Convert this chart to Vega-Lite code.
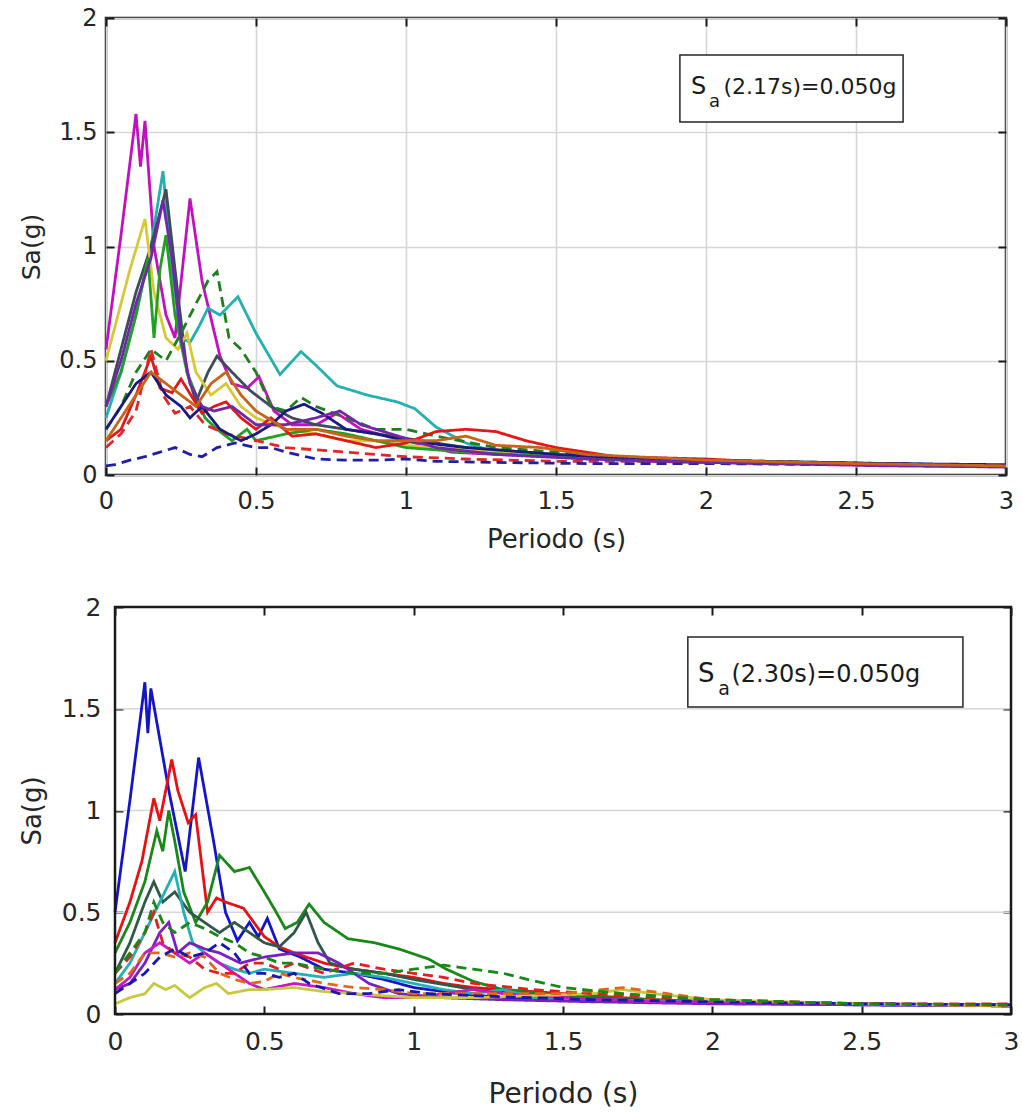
{
"$schema":"https://vega.github.io/schema/vega-lite/v6.json",
"padding":{"left":18,"top":4,"right":6,"bottom":4},
"spacing":41,
"config":{
 "view":{"stroke":"#1a1a1a","strokeWidth":2.5},
 "axis":{"labelFont":"DejaVu Sans","titleFont":"DejaVu Sans","labelColor":"#262626","titleColor":"#262626","titleFontWeight":"normal","gridColor":"#d6d6d6","gridWidth":1.6,"tickColor":"#1a1a1a","tickWidth":2,"tickSize":-8,"domain":false,"labelFlush":false,"labelOverlap":false,"labelBound":false}
},
"datasets":{
"top":[
{"s":"T1","T":0,"Sa":0.55},{"s":"T1","T":0.05,"Sa":1.05},{"s":"T1","T":0.1,"Sa":1.58},{"s":"T1","T":0.115,"Sa":1.35},{"s":"T1","T":0.13,"Sa":1.55},{"s":"T1","T":0.16,"Sa":1.0},{"s":"T1","T":0.2,"Sa":0.7},{"s":"T1","T":0.23,"Sa":0.6},{"s":"T1","T":0.28,"Sa":1.21},{"s":"T1","T":0.32,"Sa":0.85},{"s":"T1","T":0.38,"Sa":0.52},{"s":"T1","T":0.42,"Sa":0.4},{"s":"T1","T":0.47,"Sa":0.38},{"s":"T1","T":0.51,"Sa":0.43},{"s":"T1","T":0.56,"Sa":0.28},{"s":"T1","T":0.62,"Sa":0.22},{"s":"T1","T":0.7,"Sa":0.22},{"s":"T1","T":0.77,"Sa":0.27},{"s":"T1","T":0.85,"Sa":0.2},{"s":"T1","T":1.0,"Sa":0.15},{"s":"T1","T":1.15,"Sa":0.1},{"s":"T1","T":1.3,"Sa":0.09},{"s":"T1","T":1.5,"Sa":0.08},{"s":"T1","T":1.8,"Sa":0.06},{"s":"T1","T":2.2,"Sa":0.05},{"s":"T1","T":2.6,"Sa":0.04},{"s":"T1","T":3.0,"Sa":0.035},
{"s":"T2","T":0,"Sa":0.25},{"s":"T2","T":0.05,"Sa":0.45},{"s":"T2","T":0.1,"Sa":0.7},{"s":"T2","T":0.15,"Sa":1.0},{"s":"T2","T":0.19,"Sa":1.33},{"s":"T2","T":0.22,"Sa":0.9},{"s":"T2","T":0.25,"Sa":0.6},{"s":"T2","T":0.28,"Sa":0.58},{"s":"T2","T":0.31,"Sa":0.65},{"s":"T2","T":0.34,"Sa":0.73},{"s":"T2","T":0.38,"Sa":0.7},{"s":"T2","T":0.44,"Sa":0.78},{"s":"T2","T":0.5,"Sa":0.62},{"s":"T2","T":0.58,"Sa":0.44},{"s":"T2","T":0.65,"Sa":0.54},{"s":"T2","T":0.7,"Sa":0.48},{"s":"T2","T":0.77,"Sa":0.39},{"s":"T2","T":0.87,"Sa":0.35},{"s":"T2","T":0.97,"Sa":0.32},{"s":"T2","T":1.03,"Sa":0.29},{"s":"T2","T":1.1,"Sa":0.21},{"s":"T2","T":1.2,"Sa":0.14},{"s":"T2","T":1.3,"Sa":0.1},{"s":"T2","T":1.5,"Sa":0.08},{"s":"T2","T":1.8,"Sa":0.065},{"s":"T2","T":2.2,"Sa":0.055},{"s":"T2","T":2.6,"Sa":0.05},{"s":"T2","T":3.0,"Sa":0.04},
{"s":"T3","T":0,"Sa":0.3},{"s":"T3","T":0.05,"Sa":0.55},{"s":"T3","T":0.1,"Sa":0.8},{"s":"T3","T":0.15,"Sa":1.0},{"s":"T3","T":0.2,"Sa":1.25},{"s":"T3","T":0.23,"Sa":0.9},{"s":"T3","T":0.27,"Sa":0.45},{"s":"T3","T":0.3,"Sa":0.32},{"s":"T3","T":0.34,"Sa":0.45},{"s":"T3","T":0.37,"Sa":0.52},{"s":"T3","T":0.42,"Sa":0.45},{"s":"T3","T":0.48,"Sa":0.37},{"s":"T3","T":0.55,"Sa":0.3},{"s":"T3","T":0.62,"Sa":0.25},{"s":"T3","T":0.7,"Sa":0.22},{"s":"T3","T":0.8,"Sa":0.2},{"s":"T3","T":0.9,"Sa":0.18},{"s":"T3","T":1.0,"Sa":0.16},{"s":"T3","T":1.2,"Sa":0.12},{"s":"T3","T":1.4,"Sa":0.1},{"s":"T3","T":1.7,"Sa":0.07},{"s":"T3","T":2.0,"Sa":0.06},{"s":"T3","T":2.5,"Sa":0.05},{"s":"T3","T":3.0,"Sa":0.04},
{"s":"T4","T":0,"Sa":0.5},{"s":"T4","T":0.04,"Sa":0.7},{"s":"T4","T":0.08,"Sa":0.9},{"s":"T4","T":0.13,"Sa":1.12},{"s":"T4","T":0.16,"Sa":0.8},{"s":"T4","T":0.2,"Sa":0.6},{"s":"T4","T":0.24,"Sa":0.55},{"s":"T4","T":0.27,"Sa":0.62},{"s":"T4","T":0.3,"Sa":0.45},{"s":"T4","T":0.35,"Sa":0.35},{"s":"T4","T":0.4,"Sa":0.4},{"s":"T4","T":0.45,"Sa":0.3},{"s":"T4","T":0.5,"Sa":0.25},{"s":"T4","T":0.6,"Sa":0.2},{"s":"T4","T":0.7,"Sa":0.18},{"s":"T4","T":0.8,"Sa":0.15},{"s":"T4","T":0.9,"Sa":0.15},{"s":"T4","T":1.0,"Sa":0.13},{"s":"T4","T":1.2,"Sa":0.11},{"s":"T4","T":1.5,"Sa":0.09},{"s":"T4","T":1.8,"Sa":0.07},{"s":"T4","T":2.0,"Sa":0.06},{"s":"T4","T":2.5,"Sa":0.05},{"s":"T4","T":3.0,"Sa":0.04},
{"s":"T5","T":0,"Sa":0.3},{"s":"T5","T":0.05,"Sa":0.45},{"s":"T5","T":0.1,"Sa":0.7},{"s":"T5","T":0.14,"Sa":0.95},{"s":"T5","T":0.16,"Sa":0.6},{"s":"T5","T":0.18,"Sa":0.9},{"s":"T5","T":0.2,"Sa":1.05},{"s":"T5","T":0.23,"Sa":0.7},{"s":"T5","T":0.27,"Sa":0.45},{"s":"T5","T":0.3,"Sa":0.35},{"s":"T5","T":0.33,"Sa":0.25},{"s":"T5","T":0.37,"Sa":0.2},{"s":"T5","T":0.42,"Sa":0.15},{"s":"T5","T":0.47,"Sa":0.2},{"s":"T5","T":0.5,"Sa":0.15},{"s":"T5","T":0.6,"Sa":0.18},{"s":"T5","T":0.7,"Sa":0.2},{"s":"T5","T":0.8,"Sa":0.18},{"s":"T5","T":0.9,"Sa":0.15},{"s":"T5","T":1.0,"Sa":0.12},{"s":"T5","T":1.2,"Sa":0.1},{"s":"T5","T":1.5,"Sa":0.08},{"s":"T5","T":2.0,"Sa":0.06},{"s":"T5","T":2.5,"Sa":0.05},{"s":"T5","T":3.0,"Sa":0.04},
{"s":"T6","T":0,"Sa":0.2},{"s":"T6","T":0.05,"Sa":0.3},{"s":"T6","T":0.1,"Sa":0.45},{"s":"T6","T":0.15,"Sa":0.55},{"s":"T6","T":0.2,"Sa":0.5},{"s":"T6","T":0.25,"Sa":0.62},{"s":"T6","T":0.3,"Sa":0.75},{"s":"T6","T":0.34,"Sa":0.85},{"s":"T6","T":0.37,"Sa":0.89},{"s":"T6","T":0.41,"Sa":0.6},{"s":"T6","T":0.45,"Sa":0.55},{"s":"T6","T":0.5,"Sa":0.45},{"s":"T6","T":0.55,"Sa":0.3},{"s":"T6","T":0.6,"Sa":0.28},{"s":"T6","T":0.65,"Sa":0.34},{"s":"T6","T":0.7,"Sa":0.3},{"s":"T6","T":0.8,"Sa":0.25},{"s":"T6","T":0.9,"Sa":0.2},{"s":"T6","T":1.0,"Sa":0.2},{"s":"T6","T":1.1,"Sa":0.17},{"s":"T6","T":1.3,"Sa":0.12},{"s":"T6","T":1.5,"Sa":0.1},{"s":"T6","T":1.8,"Sa":0.07},{"s":"T6","T":2.2,"Sa":0.06},{"s":"T6","T":2.6,"Sa":0.05},{"s":"T6","T":3.0,"Sa":0.04},
{"s":"T7","T":0,"Sa":0.15},{"s":"T7","T":0.05,"Sa":0.2},{"s":"T7","T":0.1,"Sa":0.35},{"s":"T7","T":0.15,"Sa":0.52},{"s":"T7","T":0.18,"Sa":0.38},{"s":"T7","T":0.22,"Sa":0.36},{"s":"T7","T":0.25,"Sa":0.42},{"s":"T7","T":0.32,"Sa":0.27},{"s":"T7","T":0.36,"Sa":0.3},{"s":"T7","T":0.4,"Sa":0.32},{"s":"T7","T":0.45,"Sa":0.25},{"s":"T7","T":0.5,"Sa":0.2},{"s":"T7","T":0.55,"Sa":0.25},{"s":"T7","T":0.62,"Sa":0.17},{"s":"T7","T":0.7,"Sa":0.18},{"s":"T7","T":0.8,"Sa":0.15},{"s":"T7","T":0.9,"Sa":0.12},{"s":"T7","T":1.0,"Sa":0.14},{"s":"T7","T":1.1,"Sa":0.19},{"s":"T7","T":1.2,"Sa":0.2},{"s":"T7","T":1.3,"Sa":0.19},{"s":"T7","T":1.4,"Sa":0.15},{"s":"T7","T":1.5,"Sa":0.12},{"s":"T7","T":1.7,"Sa":0.08},{"s":"T7","T":2.0,"Sa":0.07},{"s":"T7","T":2.3,"Sa":0.05},{"s":"T7","T":2.6,"Sa":0.05},{"s":"T7","T":3.0,"Sa":0.04},
{"s":"T8","T":0,"Sa":0.12},{"s":"T8","T":0.05,"Sa":0.18},{"s":"T8","T":0.1,"Sa":0.28},{"s":"T8","T":0.15,"Sa":0.55},{"s":"T8","T":0.19,"Sa":0.35},{"s":"T8","T":0.23,"Sa":0.27},{"s":"T8","T":0.28,"Sa":0.3},{"s":"T8","T":0.33,"Sa":0.22},{"s":"T8","T":0.4,"Sa":0.18},{"s":"T8","T":0.5,"Sa":0.15},{"s":"T8","T":0.6,"Sa":0.12},{"s":"T8","T":0.8,"Sa":0.1},{"s":"T8","T":1.0,"Sa":0.08},{"s":"T8","T":1.2,"Sa":0.07},{"s":"T8","T":1.5,"Sa":0.06},{"s":"T8","T":1.8,"Sa":0.06},{"s":"T8","T":2.0,"Sa":0.06},{"s":"T8","T":2.5,"Sa":0.05},{"s":"T8","T":3.0,"Sa":0.04},
{"s":"T9","T":0,"Sa":0.04},{"s":"T9","T":0.03,"Sa":0.045},{"s":"T9","T":0.08,"Sa":0.065},{"s":"T9","T":0.13,"Sa":0.08},{"s":"T9","T":0.18,"Sa":0.1},{"s":"T9","T":0.23,"Sa":0.12},{"s":"T9","T":0.28,"Sa":0.09},{"s":"T9","T":0.32,"Sa":0.08},{"s":"T9","T":0.37,"Sa":0.12},{"s":"T9","T":0.43,"Sa":0.14},{"s":"T9","T":0.5,"Sa":0.12},{"s":"T9","T":0.55,"Sa":0.12},{"s":"T9","T":0.6,"Sa":0.1},{"s":"T9","T":0.7,"Sa":0.07},{"s":"T9","T":0.8,"Sa":0.065},{"s":"T9","T":0.9,"Sa":0.065},{"s":"T9","T":1.0,"Sa":0.07},{"s":"T9","T":1.1,"Sa":0.06},{"s":"T9","T":1.3,"Sa":0.055},{"s":"T9","T":1.6,"Sa":0.05},{"s":"T9","T":2.0,"Sa":0.05},{"s":"T9","T":2.5,"Sa":0.045},{"s":"T9","T":3.0,"Sa":0.04},
{"s":"T10","T":0,"Sa":0.2},{"s":"T10","T":0.05,"Sa":0.3},{"s":"T10","T":0.1,"Sa":0.4},{"s":"T10","T":0.15,"Sa":0.45},{"s":"T10","T":0.2,"Sa":0.35},{"s":"T10","T":0.25,"Sa":0.3},{"s":"T10","T":0.28,"Sa":0.25},{"s":"T10","T":0.32,"Sa":0.3},{"s":"T10","T":0.38,"Sa":0.2},{"s":"T10","T":0.45,"Sa":0.15},{"s":"T10","T":0.5,"Sa":0.18},{"s":"T10","T":0.55,"Sa":0.22},{"s":"T10","T":0.6,"Sa":0.28},{"s":"T10","T":0.66,"Sa":0.31},{"s":"T10","T":0.72,"Sa":0.27},{"s":"T10","T":0.8,"Sa":0.2},{"s":"T10","T":0.9,"Sa":0.18},{"s":"T10","T":1.0,"Sa":0.15},{"s":"T10","T":1.2,"Sa":0.12},{"s":"T10","T":1.5,"Sa":0.09},{"s":"T10","T":1.8,"Sa":0.07},{"s":"T10","T":2.2,"Sa":0.06},{"s":"T10","T":2.6,"Sa":0.05},{"s":"T10","T":3.0,"Sa":0.045},
{"s":"T11","T":0,"Sa":0.3},{"s":"T11","T":0.05,"Sa":0.5},{"s":"T11","T":0.1,"Sa":0.75},{"s":"T11","T":0.15,"Sa":0.95},{"s":"T11","T":0.19,"Sa":1.2},{"s":"T11","T":0.22,"Sa":0.95},{"s":"T11","T":0.25,"Sa":0.6},{"s":"T11","T":0.28,"Sa":0.4},{"s":"T11","T":0.32,"Sa":0.3},{"s":"T11","T":0.36,"Sa":0.28},{"s":"T11","T":0.42,"Sa":0.3},{"s":"T11","T":0.5,"Sa":0.22},{"s":"T11","T":0.6,"Sa":0.22},{"s":"T11","T":0.7,"Sa":0.25},{"s":"T11","T":0.78,"Sa":0.28},{"s":"T11","T":0.85,"Sa":0.22},{"s":"T11","T":0.95,"Sa":0.18},{"s":"T11","T":1.1,"Sa":0.12},{"s":"T11","T":1.3,"Sa":0.09},{"s":"T11","T":1.6,"Sa":0.07},{"s":"T11","T":2.0,"Sa":0.055},{"s":"T11","T":2.5,"Sa":0.045},{"s":"T11","T":3.0,"Sa":0.035},
{"s":"T12","T":0,"Sa":0.15},{"s":"T12","T":0.05,"Sa":0.25},{"s":"T12","T":0.1,"Sa":0.35},{"s":"T12","T":0.15,"Sa":0.45},{"s":"T12","T":0.2,"Sa":0.4},{"s":"T12","T":0.25,"Sa":0.35},{"s":"T12","T":0.3,"Sa":0.3},{"s":"T12","T":0.35,"Sa":0.4},{"s":"T12","T":0.4,"Sa":0.45},{"s":"T12","T":0.45,"Sa":0.35},{"s":"T12","T":0.5,"Sa":0.28},{"s":"T12","T":0.6,"Sa":0.2},{"s":"T12","T":0.7,"Sa":0.2},{"s":"T12","T":0.8,"Sa":0.17},{"s":"T12","T":0.9,"Sa":0.15},{"s":"T12","T":1.0,"Sa":0.15},{"s":"T12","T":1.1,"Sa":0.15},{"s":"T12","T":1.2,"Sa":0.17},{"s":"T12","T":1.3,"Sa":0.13},{"s":"T12","T":1.45,"Sa":0.12},{"s":"T12","T":1.6,"Sa":0.09},{"s":"T12","T":2.0,"Sa":0.065},{"s":"T12","T":2.5,"Sa":0.05},{"s":"T12","T":3.0,"Sa":0.04}
],
"bot":[
{"s":"B1","T":0,"Sa":0.5},{"s":"B1","T":0.05,"Sa":1.05},{"s":"B1","T":0.1,"Sa":1.63},{"s":"B1","T":0.11,"Sa":1.38},{"s":"B1","T":0.12,"Sa":1.6},{"s":"B1","T":0.18,"Sa":1.1},{"s":"B1","T":0.235,"Sa":0.7},{"s":"B1","T":0.28,"Sa":1.26},{"s":"B1","T":0.33,"Sa":0.85},{"s":"B1","T":0.37,"Sa":0.5},{"s":"B1","T":0.41,"Sa":0.36},{"s":"B1","T":0.45,"Sa":0.45},{"s":"B1","T":0.48,"Sa":0.38},{"s":"B1","T":0.51,"Sa":0.47},{"s":"B1","T":0.55,"Sa":0.32},{"s":"B1","T":0.62,"Sa":0.28},{"s":"B1","T":0.7,"Sa":0.22},{"s":"B1","T":0.8,"Sa":0.2},{"s":"B1","T":0.9,"Sa":0.17},{"s":"B1","T":1.0,"Sa":0.13},{"s":"B1","T":1.15,"Sa":0.1},{"s":"B1","T":1.3,"Sa":0.08},{"s":"B1","T":1.6,"Sa":0.07},{"s":"B1","T":2.0,"Sa":0.055},{"s":"B1","T":2.5,"Sa":0.045},{"s":"B1","T":3.0,"Sa":0.04},
{"s":"B2","T":0,"Sa":0.35},{"s":"B2","T":0.05,"Sa":0.55},{"s":"B2","T":0.09,"Sa":0.75},{"s":"B2","T":0.13,"Sa":1.06},{"s":"B2","T":0.15,"Sa":0.95},{"s":"B2","T":0.19,"Sa":1.25},{"s":"B2","T":0.21,"Sa":1.1},{"s":"B2","T":0.245,"Sa":0.94},{"s":"B2","T":0.27,"Sa":0.98},{"s":"B2","T":0.31,"Sa":0.5},{"s":"B2","T":0.34,"Sa":0.57},{"s":"B2","T":0.37,"Sa":0.55},{"s":"B2","T":0.43,"Sa":0.52},{"s":"B2","T":0.5,"Sa":0.38},{"s":"B2","T":0.55,"Sa":0.33},{"s":"B2","T":0.6,"Sa":0.3},{"s":"B2","T":0.7,"Sa":0.25},{"s":"B2","T":0.8,"Sa":0.22},{"s":"B2","T":0.9,"Sa":0.2},{"s":"B2","T":1.0,"Sa":0.18},{"s":"B2","T":1.1,"Sa":0.15},{"s":"B2","T":1.2,"Sa":0.13},{"s":"B2","T":1.3,"Sa":0.12},{"s":"B2","T":1.5,"Sa":0.1},{"s":"B2","T":1.8,"Sa":0.07},{"s":"B2","T":2.0,"Sa":0.06},{"s":"B2","T":2.5,"Sa":0.05},{"s":"B2","T":3.0,"Sa":0.04},
{"s":"B3","T":0,"Sa":0.3},{"s":"B3","T":0.05,"Sa":0.45},{"s":"B3","T":0.1,"Sa":0.65},{"s":"B3","T":0.14,"Sa":0.9},{"s":"B3","T":0.16,"Sa":0.8},{"s":"B3","T":0.18,"Sa":1.0},{"s":"B3","T":0.2,"Sa":0.85},{"s":"B3","T":0.23,"Sa":0.6},{"s":"B3","T":0.27,"Sa":0.45},{"s":"B3","T":0.31,"Sa":0.55},{"s":"B3","T":0.35,"Sa":0.78},{"s":"B3","T":0.4,"Sa":0.7},{"s":"B3","T":0.45,"Sa":0.72},{"s":"B3","T":0.5,"Sa":0.6},{"s":"B3","T":0.54,"Sa":0.5},{"s":"B3","T":0.57,"Sa":0.42},{"s":"B3","T":0.61,"Sa":0.45},{"s":"B3","T":0.65,"Sa":0.54},{"s":"B3","T":0.7,"Sa":0.45},{"s":"B3","T":0.78,"Sa":0.37},{"s":"B3","T":0.87,"Sa":0.35},{"s":"B3","T":0.95,"Sa":0.32},{"s":"B3","T":1.05,"Sa":0.27},{"s":"B3","T":1.11,"Sa":0.22},{"s":"B3","T":1.2,"Sa":0.16},{"s":"B3","T":1.3,"Sa":0.12},{"s":"B3","T":1.5,"Sa":0.09},{"s":"B3","T":1.8,"Sa":0.07},{"s":"B3","T":2.0,"Sa":0.06},{"s":"B3","T":2.5,"Sa":0.05},{"s":"B3","T":3.0,"Sa":0.04},
{"s":"B4","T":0,"Sa":0.2},{"s":"B4","T":0.05,"Sa":0.35},{"s":"B4","T":0.1,"Sa":0.55},{"s":"B4","T":0.13,"Sa":0.65},{"s":"B4","T":0.16,"Sa":0.55},{"s":"B4","T":0.2,"Sa":0.6},{"s":"B4","T":0.25,"Sa":0.5},{"s":"B4","T":0.3,"Sa":0.45},{"s":"B4","T":0.35,"Sa":0.4},{"s":"B4","T":0.4,"Sa":0.45},{"s":"B4","T":0.45,"Sa":0.4},{"s":"B4","T":0.5,"Sa":0.35},{"s":"B4","T":0.55,"Sa":0.33},{"s":"B4","T":0.6,"Sa":0.4},{"s":"B4","T":0.64,"Sa":0.5},{"s":"B4","T":0.68,"Sa":0.35},{"s":"B4","T":0.72,"Sa":0.25},{"s":"B4","T":0.8,"Sa":0.22},{"s":"B4","T":0.9,"Sa":0.2},{"s":"B4","T":1.0,"Sa":0.17},{"s":"B4","T":1.2,"Sa":0.12},{"s":"B4","T":1.5,"Sa":0.08},{"s":"B4","T":2.0,"Sa":0.06},{"s":"B4","T":2.5,"Sa":0.05},{"s":"B4","T":3.0,"Sa":0.04},
{"s":"B5","T":0,"Sa":0.15},{"s":"B5","T":0.05,"Sa":0.25},{"s":"B5","T":0.1,"Sa":0.4},{"s":"B5","T":0.15,"Sa":0.55},{"s":"B5","T":0.2,"Sa":0.7},{"s":"B5","T":0.23,"Sa":0.5},{"s":"B5","T":0.26,"Sa":0.35},{"s":"B5","T":0.3,"Sa":0.3},{"s":"B5","T":0.35,"Sa":0.25},{"s":"B5","T":0.4,"Sa":0.22},{"s":"B5","T":0.45,"Sa":0.2},{"s":"B5","T":0.5,"Sa":0.22},{"s":"B5","T":0.6,"Sa":0.2},{"s":"B5","T":0.7,"Sa":0.18},{"s":"B5","T":0.8,"Sa":0.2},{"s":"B5","T":0.9,"Sa":0.18},{"s":"B5","T":1.0,"Sa":0.15},{"s":"B5","T":1.1,"Sa":0.12},{"s":"B5","T":1.2,"Sa":0.1},{"s":"B5","T":1.3,"Sa":0.12},{"s":"B5","T":1.4,"Sa":0.08},{"s":"B5","T":1.6,"Sa":0.07},{"s":"B5","T":2.0,"Sa":0.06},{"s":"B5","T":2.5,"Sa":0.05},{"s":"B5","T":3.0,"Sa":0.04},
{"s":"B6","T":0,"Sa":0.12},{"s":"B6","T":0.05,"Sa":0.15},{"s":"B6","T":0.1,"Sa":0.25},{"s":"B6","T":0.15,"Sa":0.4},{"s":"B6","T":0.18,"Sa":0.45},{"s":"B6","T":0.21,"Sa":0.3},{"s":"B6","T":0.25,"Sa":0.35},{"s":"B6","T":0.3,"Sa":0.32},{"s":"B6","T":0.35,"Sa":0.3},{"s":"B6","T":0.42,"Sa":0.25},{"s":"B6","T":0.5,"Sa":0.28},{"s":"B6","T":0.6,"Sa":0.3},{"s":"B6","T":0.68,"Sa":0.3},{"s":"B6","T":0.75,"Sa":0.25},{"s":"B6","T":0.85,"Sa":0.15},{"s":"B6","T":0.95,"Sa":0.1},{"s":"B6","T":1.1,"Sa":0.08},{"s":"B6","T":1.3,"Sa":0.07},{"s":"B6","T":1.6,"Sa":0.06},{"s":"B6","T":2.0,"Sa":0.05},{"s":"B6","T":2.5,"Sa":0.045},{"s":"B6","T":3.0,"Sa":0.04},
{"s":"B7","T":0,"Sa":0.12},{"s":"B7","T":0.05,"Sa":0.18},{"s":"B7","T":0.1,"Sa":0.3},{"s":"B7","T":0.15,"Sa":0.35},{"s":"B7","T":0.2,"Sa":0.3},{"s":"B7","T":0.25,"Sa":0.25},{"s":"B7","T":0.3,"Sa":0.3},{"s":"B7","T":0.38,"Sa":0.22},{"s":"B7","T":0.45,"Sa":0.15},{"s":"B7","T":0.5,"Sa":0.12},{"s":"B7","T":0.6,"Sa":0.15},{"s":"B7","T":0.7,"Sa":0.13},{"s":"B7","T":0.8,"Sa":0.1},{"s":"B7","T":0.9,"Sa":0.08},{"s":"B7","T":1.0,"Sa":0.08},{"s":"B7","T":1.2,"Sa":0.12},{"s":"B7","T":1.3,"Sa":0.1},{"s":"B7","T":1.5,"Sa":0.08},{"s":"B7","T":1.8,"Sa":0.06},{"s":"B7","T":2.0,"Sa":0.06},{"s":"B7","T":2.5,"Sa":0.05},{"s":"B7","T":3.0,"Sa":0.045},
{"s":"B8","T":0,"Sa":0.05},{"s":"B8","T":0.05,"Sa":0.08},{"s":"B8","T":0.1,"Sa":0.1},{"s":"B8","T":0.13,"Sa":0.15},{"s":"B8","T":0.17,"Sa":0.12},{"s":"B8","T":0.2,"Sa":0.14},{"s":"B8","T":0.25,"Sa":0.08},{"s":"B8","T":0.3,"Sa":0.13},{"s":"B8","T":0.34,"Sa":0.15},{"s":"B8","T":0.38,"Sa":0.1},{"s":"B8","T":0.45,"Sa":0.12},{"s":"B8","T":0.5,"Sa":0.12},{"s":"B8","T":0.6,"Sa":0.13},{"s":"B8","T":0.7,"Sa":0.11},{"s":"B8","T":0.8,"Sa":0.1},{"s":"B8","T":0.9,"Sa":0.09},{"s":"B8","T":1.0,"Sa":0.08},{"s":"B8","T":1.2,"Sa":0.08},{"s":"B8","T":1.4,"Sa":0.09},{"s":"B8","T":1.6,"Sa":0.1},{"s":"B8","T":1.7,"Sa":0.12},{"s":"B8","T":1.8,"Sa":0.1},{"s":"B8","T":2.0,"Sa":0.07},{"s":"B8","T":2.5,"Sa":0.05},{"s":"B8","T":3.0,"Sa":0.04},
{"s":"B9","T":0,"Sa":0.2},{"s":"B9","T":0.05,"Sa":0.28},{"s":"B9","T":0.1,"Sa":0.4},{"s":"B9","T":0.13,"Sa":0.5},{"s":"B9","T":0.16,"Sa":0.35},{"s":"B9","T":0.2,"Sa":0.3},{"s":"B9","T":0.25,"Sa":0.28},{"s":"B9","T":0.3,"Sa":0.22},{"s":"B9","T":0.35,"Sa":0.2},{"s":"B9","T":0.4,"Sa":0.2},{"s":"B9","T":0.45,"Sa":0.25},{"s":"B9","T":0.5,"Sa":0.25},{"s":"B9","T":0.55,"Sa":0.22},{"s":"B9","T":0.6,"Sa":0.25},{"s":"B9","T":0.7,"Sa":0.2},{"s":"B9","T":0.8,"Sa":0.25},{"s":"B9","T":0.9,"Sa":0.22},{"s":"B9","T":1.0,"Sa":0.2},{"s":"B9","T":1.1,"Sa":0.18},{"s":"B9","T":1.2,"Sa":0.15},{"s":"B9","T":1.4,"Sa":0.12},{"s":"B9","T":1.6,"Sa":0.1},{"s":"B9","T":1.8,"Sa":0.08},{"s":"B9","T":2.0,"Sa":0.07},{"s":"B9","T":2.5,"Sa":0.05},{"s":"B9","T":3.0,"Sa":0.05},
{"s":"B10","T":0,"Sa":0.15},{"s":"B10","T":0.05,"Sa":0.2},{"s":"B10","T":0.1,"Sa":0.3},{"s":"B10","T":0.15,"Sa":0.3},{"s":"B10","T":0.2,"Sa":0.28},{"s":"B10","T":0.25,"Sa":0.3},{"s":"B10","T":0.3,"Sa":0.28},{"s":"B10","T":0.35,"Sa":0.2},{"s":"B10","T":0.4,"Sa":0.17},{"s":"B10","T":0.45,"Sa":0.15},{"s":"B10","T":0.5,"Sa":0.16},{"s":"B10","T":0.55,"Sa":0.2},{"s":"B10","T":0.6,"Sa":0.18},{"s":"B10","T":0.7,"Sa":0.15},{"s":"B10","T":0.8,"Sa":0.13},{"s":"B10","T":0.9,"Sa":0.12},{"s":"B10","T":1.0,"Sa":0.1},{"s":"B10","T":1.1,"Sa":0.1},{"s":"B10","T":1.3,"Sa":0.1},{"s":"B10","T":1.5,"Sa":0.1},{"s":"B10","T":1.7,"Sa":0.13},{"s":"B10","T":1.85,"Sa":0.1},{"s":"B10","T":2.0,"Sa":0.07},{"s":"B10","T":2.5,"Sa":0.05},{"s":"B10","T":3.0,"Sa":0.04},
{"s":"B11","T":0,"Sa":0.1},{"s":"B11","T":0.05,"Sa":0.15},{"s":"B11","T":0.1,"Sa":0.2},{"s":"B11","T":0.15,"Sa":0.28},{"s":"B11","T":0.2,"Sa":0.32},{"s":"B11","T":0.25,"Sa":0.28},{"s":"B11","T":0.3,"Sa":0.3},{"s":"B11","T":0.35,"Sa":0.35},{"s":"B11","T":0.4,"Sa":0.3},{"s":"B11","T":0.45,"Sa":0.2},{"s":"B11","T":0.5,"Sa":0.2},{"s":"B11","T":0.55,"Sa":0.18},{"s":"B11","T":0.6,"Sa":0.2},{"s":"B11","T":0.65,"Sa":0.15},{"s":"B11","T":0.75,"Sa":0.1},{"s":"B11","T":0.85,"Sa":0.1},{"s":"B11","T":0.95,"Sa":0.12},{"s":"B11","T":1.05,"Sa":0.1},{"s":"B11","T":1.2,"Sa":0.09},{"s":"B11","T":1.4,"Sa":0.08},{"s":"B11","T":1.6,"Sa":0.07},{"s":"B11","T":2.0,"Sa":0.06},{"s":"B11","T":2.5,"Sa":0.05},{"s":"B11","T":3.0,"Sa":0.045},
{"s":"B12","T":0,"Sa":0.2},{"s":"B12","T":0.05,"Sa":0.3},{"s":"B12","T":0.1,"Sa":0.4},{"s":"B12","T":0.13,"Sa":0.55},{"s":"B12","T":0.16,"Sa":0.45},{"s":"B12","T":0.2,"Sa":0.4},{"s":"B12","T":0.25,"Sa":0.45},{"s":"B12","T":0.3,"Sa":0.42},{"s":"B12","T":0.35,"Sa":0.38},{"s":"B12","T":0.4,"Sa":0.35},{"s":"B12","T":0.45,"Sa":0.3},{"s":"B12","T":0.5,"Sa":0.28},{"s":"B12","T":0.55,"Sa":0.25},{"s":"B12","T":0.6,"Sa":0.25},{"s":"B12","T":0.7,"Sa":0.22},{"s":"B12","T":0.8,"Sa":0.2},{"s":"B12","T":0.9,"Sa":0.2},{"s":"B12","T":1.0,"Sa":0.22},{"s":"B12","T":1.1,"Sa":0.24},{"s":"B12","T":1.2,"Sa":0.22},{"s":"B12","T":1.3,"Sa":0.2},{"s":"B12","T":1.38,"Sa":0.17},{"s":"B12","T":1.5,"Sa":0.13},{"s":"B12","T":1.7,"Sa":0.1},{"s":"B12","T":2.0,"Sa":0.07},{"s":"B12","T":2.5,"Sa":0.05},{"s":"B12","T":3.0,"Sa":0.045}
],
"ygrid":[{"g":0.5},{"g":1},{"g":1.5}]
},
"vconcat":[
{
 "width":900,"height":457,
 "resolve":{"axis":{"x":"independent","y":"independent"}},
 "layer":[
  {"data":{"name":"top"},
   "mark":{"type":"line","strokeWidth":2.8},
   "encoding":{
    "x":{"field":"T","type":"quantitative","scale":{"domain":[0,3],"nice":false},"axis":{"orient":"bottom","title":"Periodo (s)","values":[0,0.5,1,1.5,2,2.5,3],"format":"~g","labelFontSize":24,"titleFontSize":26,"labelPadding":22,"titlePadding":13}},
    "y":{"field":"Sa","type":"quantitative","scale":{"domain":[0,2],"nice":false},"axis":{"orient":"left","title":"Sa(g)","values":[0,0.5,1,1.5,2],"format":"~g","labelFontSize":24,"titleFontSize":25,"labelPadding":17,"titlePadding":14}},
    "color":{"field":"s","type":"nominal","legend":null,"scale":{"domain":["T1","T2","T3","T4","T5","T6","T7","T8","T9","T10","T11","T12","B1","B2","B3","B4","B5","B6","B7","B8","B9","B10","B11","B12"],"range":["#c010c0","#22b0b0","#3c4c58","#d8c838","#20a020","#1f7f1f","#e01818","#e02828","#2020a0","#1a1a80","#7028a8","#c86418","#1414c8","#e81010","#188818","#305848","#20b0b8","#7a20c0","#c818c8","#c8c840","#e02020","#e06818","#1818b0","#188818"]}},
    "strokeDash":{"field":"s","type":"nominal","legend":null,"scale":{"domain":["T1","T2","T3","T4","T5","T6","T7","T8","T9","T10","T11","T12","B1","B2","B3","B4","B5","B6","B7","B8","B9","B10","B11","B12"],"range":[[1,0],[1,0],[1,0],[1,0],[1,0],[10,6],[1,0],[10,6],[10,6],[1,0],[1,0],[1,0],[1,0],[1,0],[1,0],[1,0],[1,0],[1,0],[1,0],[1,0],[10,6],[10,6],[10,6],[10,6]]}}
   }},
  {"data":{"values":[{}]},
   "mark":{"type":"rect","fill":"white","stroke":"#262626","strokeWidth":1.5},
   "encoding":{
    "x":{"datum":1.913,"axis":{"orient":"top","labels":false,"grid":false,"title":null,"values":[0,0.5,1,1.5,2,2.5,3]}},
    "x2":{"datum":2.657},
    "y":{"datum":1.838,"axis":{"orient":"right","labels":false,"grid":false,"title":null,"values":[0,0.5,1,1.5,2]}},
    "y2":{"datum":1.545}}},
  {"data":{"values":[{}]},
   "mark":{"type":"text","text":"S","align":"left","baseline":"alphabetic","fontSize":24,"font":"DejaVu Sans","color":"#1a1a1a"},
   "encoding":{"x":{"datum":1.95,"axis":null},"y":{"datum":1.667,"axis":null}}},
  {"data":{"values":[{}]},
   "mark":{"type":"text","text":"a","align":"left","baseline":"alphabetic","fontSize":18,"font":"DejaVu Sans","color":"#1a1a1a"},
   "encoding":{"x":{"datum":2.01,"axis":null},"y":{"datum":1.61,"axis":null}}},
  {"data":{"values":[{}]},
   "mark":{"type":"text","text":"(2.17s)=0.050g","align":"left","baseline":"alphabetic","fontSize":22,"font":"DejaVu Sans","color":"#1a1a1a"},
   "encoding":{"x":{"datum":2.058,"axis":null},"y":{"datum":1.667,"axis":null}}}
 ]
},
{
 "width":905,"height":407,
 "view":{"stroke":null},
 "resolve":{"axis":{"x":"independent","y":"independent"}},
 "layer":[
  {"data":{"name":"ygrid"},
   "mark":{"type":"rule","color":"#d6d6d6","strokeWidth":1.6},
   "encoding":{"y":{"field":"g","type":"quantitative","axis":null},"x":{"datum":0,"axis":null},"x2":{"datum":3}}},
  {"data":{"name":"bot"},
   "mark":{"type":"line","strokeWidth":2.8},
   "encoding":{
    "x":{"field":"T","type":"quantitative","scale":{"domain":[0,3],"nice":false,"range":[9,905]},"axis":{"orient":"bottom","title":"Periodo (s)","values":[0,0.5,1,1.5,2,2.5,3],"format":"~g","labelFontSize":25,"titleFontSize":28,"labelPadding":23,"titlePadding":26}},
    "y":{"field":"Sa","type":"quantitative","scale":{"domain":[0,2],"nice":false},"axis":{"orient":"left","offset":-9,"grid":false,"title":"Sa(g)","values":[0,0.5,1,1.5,2],"format":"~g","labelFontSize":25,"titleFontSize":26,"labelPadding":22,"titlePadding":16}},
    "color":{"field":"s","type":"nominal","legend":null,"scale":{"domain":["T1","T2","T3","T4","T5","T6","T7","T8","T9","T10","T11","T12","B1","B2","B3","B4","B5","B6","B7","B8","B9","B10","B11","B12"],"range":["#c010c0","#22b0b0","#3c4c58","#d8c838","#20a020","#1f7f1f","#e01818","#e02828","#2020a0","#1a1a80","#7028a8","#c86418","#1414c8","#e81010","#188818","#305848","#20b0b8","#7a20c0","#c818c8","#c8c840","#e02020","#e06818","#1818b0","#188818"]}},
    "strokeDash":{"field":"s","type":"nominal","legend":null,"scale":{"domain":["T1","T2","T3","T4","T5","T6","T7","T8","T9","T10","T11","T12","B1","B2","B3","B4","B5","B6","B7","B8","B9","B10","B11","B12"],"range":[[1,0],[1,0],[1,0],[1,0],[1,0],[10,6],[1,0],[10,6],[10,6],[1,0],[1,0],[1,0],[1,0],[1,0],[1,0],[1,0],[1,0],[1,0],[1,0],[1,0],[10,6],[10,6],[10,6],[10,6]]}}
   }},
  {"data":{"values":[{}]},
   "mark":{"type":"rect","fillOpacity":0,"stroke":"#1a1a1a","strokeWidth":2.5},
   "encoding":{"x":{"datum":0,"axis":null},"x2":{"datum":3},"y":{"datum":0,"axis":null},"y2":{"datum":2}}},
  {"data":{"values":[{}]},
   "mark":{"type":"rect","fill":"white","stroke":"#262626","strokeWidth":1.5},
   "encoding":{
    "x":{"datum":1.918,"axis":{"orient":"top","labels":false,"grid":false,"title":null,"values":[0,0.5,1,1.5,2,2.5,3]}},
    "x2":{"datum":2.839},
    "y":{"datum":1.853,"axis":{"orient":"right","labels":false,"grid":false,"title":null,"values":[0,0.5,1,1.5,2]}},
    "y2":{"datum":1.509}}},
  {"data":{"values":[{}]},
   "mark":{"type":"text","text":"S","align":"left","baseline":"alphabetic","fontSize":26,"font":"DejaVu Sans","color":"#1a1a1a"},
   "encoding":{"x":{"datum":1.952,"axis":null},"y":{"datum":1.631,"axis":null}}},
  {"data":{"values":[{}]},
   "mark":{"type":"text","text":"a","align":"left","baseline":"alphabetic","fontSize":19,"font":"DejaVu Sans","color":"#1a1a1a"},
   "encoding":{"x":{"datum":2.02,"axis":null},"y":{"datum":1.568,"axis":null}}},
  {"data":{"values":[{}]},
   "mark":{"type":"text","text":"(2.30s)=0.050g","align":"left","baseline":"alphabetic","fontSize":24,"font":"DejaVu Sans","color":"#1a1a1a"},
   "encoding":{"x":{"datum":2.064,"axis":null},"y":{"datum":1.631,"axis":null}}}
 ]
}
]
}
